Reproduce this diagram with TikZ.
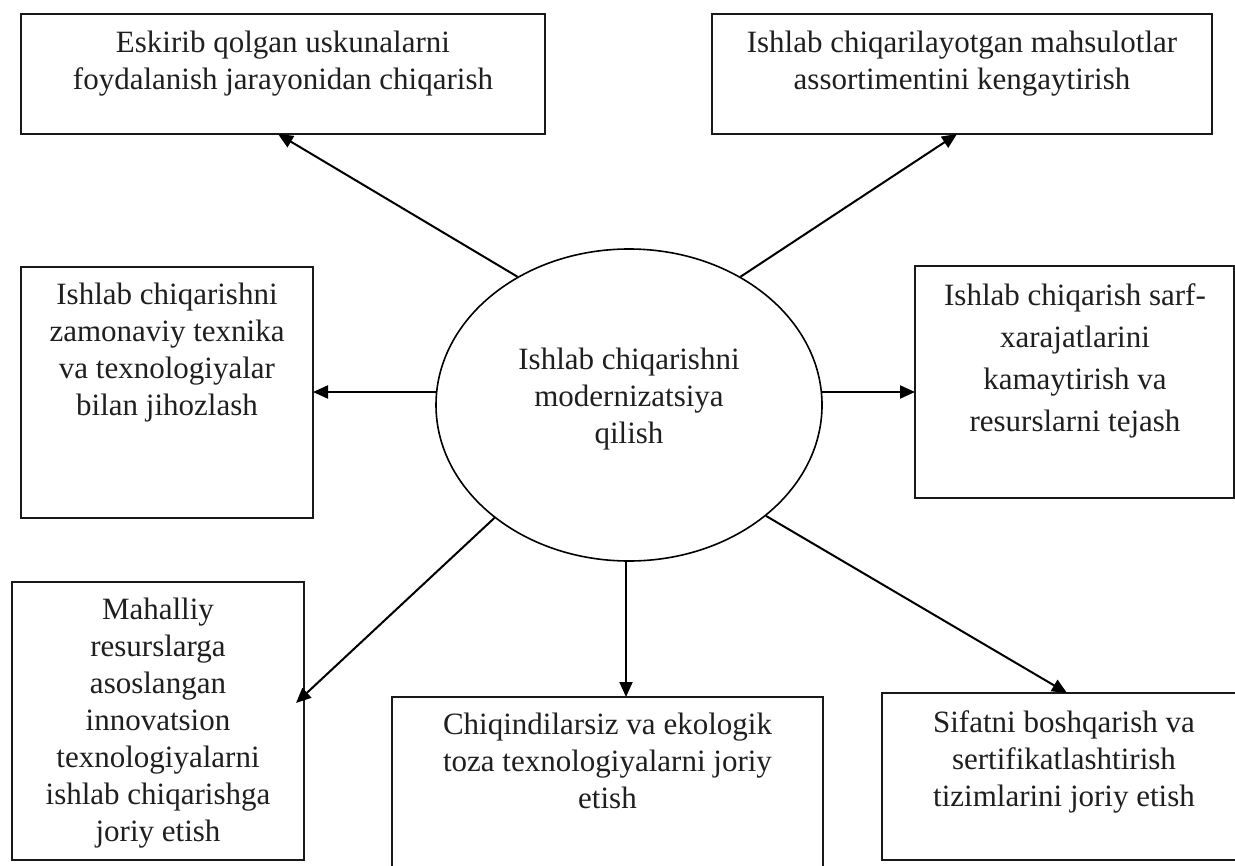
\documentclass[tikz,border=0pt]{standalone}
\usepackage{fontspec}
\setmainfont{Liberation Serif}
\usetikzlibrary{arrows.meta,shapes.geometric,fit}
\begin{document}
\begin{tikzpicture}[x=0.5pt,y=-0.5pt,
  box/.style={draw=black!90, line width=1pt, inner sep=0pt, rectangle},
  txt/.style={anchor=north, inner sep=0pt, align=center, text=black!88,
              font=\fontsize{15.5pt}{18.5pt}\selectfont},
  txtwide/.style={txt, font=\fontsize{15.5pt}{21pt}\selectfont},
  hub/.style={ellipse, draw=black, line width=0.8pt, inner sep=0pt,
              minimum width=193pt, minimum height=156pt},
  arr/.style={line width=1pt, -{Triangle[length=7.5pt,width=6.5pt]}}
]
\useasboundingbox (0,0) rectangle (1235,866);
\fill[white] (0,0) rectangle (1235,866);

% boxes
\node[box, fit={(21,14) (545,134)}] (b1) {};
\node[box, fit={(712,14) (1212,134)}] (b2) {};
\node[box, fit={(21,267) (313,518)}] (b3) {};
\node[box, fit={(915,266) (1234,498)}] (b4) {};
\node[box, fit={(12,582) (304,860)}] (b5) {};
\node[box, fit={(392,697) (823,900)}] (b6) {};
\node[box, fit={(882,693) (1246,860)}] (b7) {};

% texts
\node[txt] (t1) at (283,31) {Eskirib qolgan uskunalarni\\foydalanish jarayonidan chiqarish};
\node[txt] (t2) at (962,31) {Ishlab chiqarilayotgan mahsulotlar\\assortimentini kengaytirish};
\node[txt] (t3) at (167,283) {Ishlab chiqarishni\\zamonaviy texnika\\va texnologiyalar\\bilan jihozlash};
\node[txtwide] (t4) at (1075,283) {Ishlab chiqarish sarf-\\xarajatlarini\\kamaytirish va\\resurslarni tejash};
\node[txt] (t5) at (158,598) {Mahalliy\\resurslarga\\asoslangan\\innovatsion\\texnologiyalarni\\ishlab chiqarishga\\joriy etish};
\node[txt] (t6) at (607.5,713) {Chiqindilarsiz va ekologik\\toza texnologiyalarni joriy\\etish};
\node[txt] (t7) at (1064,710) {Sifatni boshqarish va\\sertifikatlashtirish\\tizimlarini joriy etish};

% central ellipse
\node[hub] (e) at (629,405) {};
\node[txt] (te) at (629,348) {Ishlab chiqarishni\\modernizatsiya\\qilish};

% arrow end points
\coordinate (p1) at (278,134);
\coordinate (p2) at (957,134);
\coordinate (p3) at (313,392);
\coordinate (p4) at (915,392);
\coordinate (p5) at (296,703);
\coordinate (p6) at (626,697);
\coordinate (p7) at (1067,693);
\coordinate (s3) at (436,392);
\coordinate (s4) at (822,392);
\coordinate (s6) at (626,561);

% connectors
\draw[arr] (e.131.4) -- (p1);
\draw[arr] (e.49.6) -- (p2);
\draw[arr] (s3) -- (p3);
\draw[arr] (s4) -- (p4);
\draw[arr] (e.220.3) -- (p5);
\draw[arr] (s6) -- (p6);
\draw[arr] (e.321.8) -- (p7);
\end{tikzpicture}
\end{document}
